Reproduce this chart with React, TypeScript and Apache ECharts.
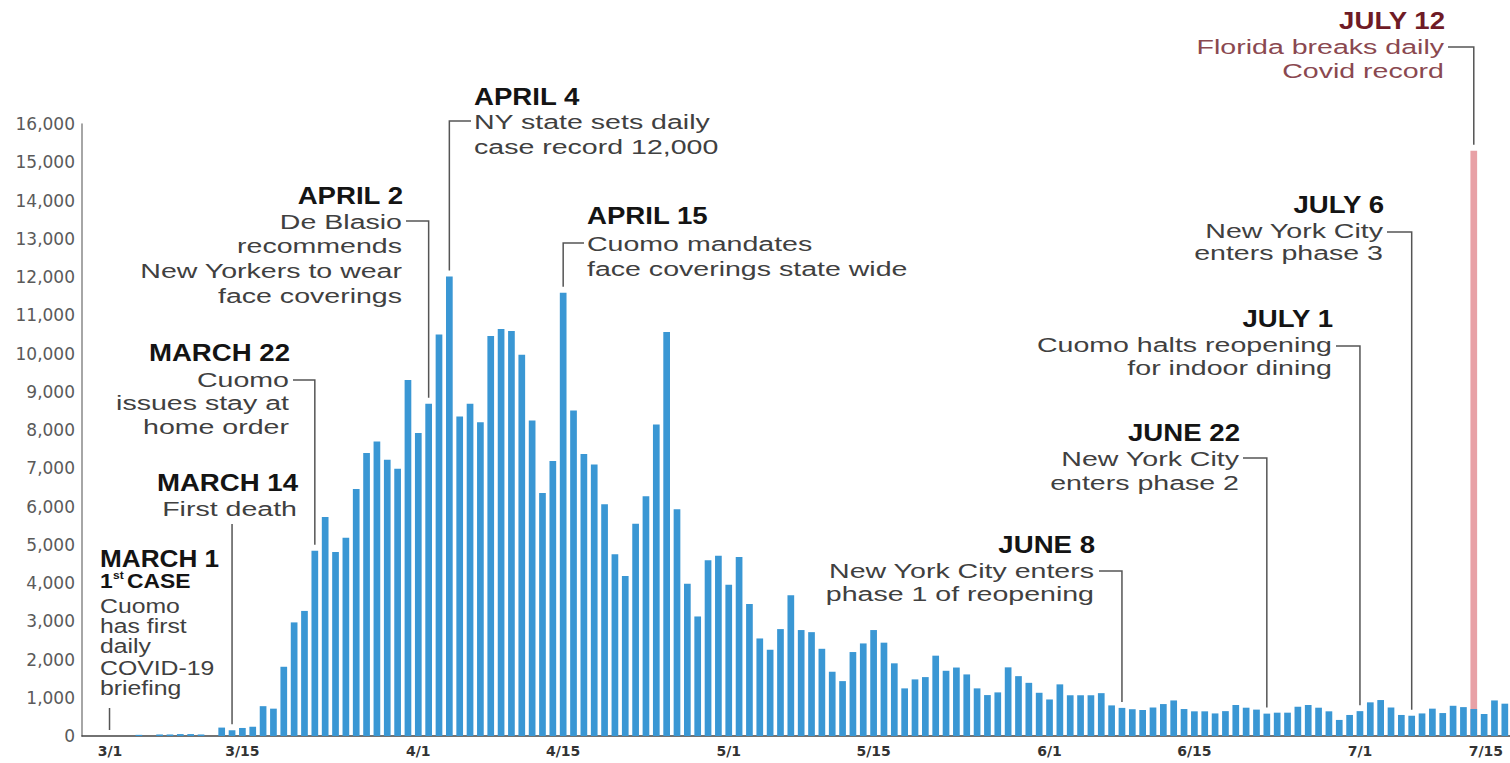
import React, { useEffect, useRef } from "react";
import * as echarts from "echarts";

// ---------- DATA ----------
const MONTHS: [number, number, number][] = [
  // [month, firstDay, lastDay]
  [2, 29, 29],
  [3, 1, 31],
  [4, 1, 30],
  [5, 1, 31],
  [6, 1, 30],
  [7, 1, 15],
];
const DATES: string[] = [];
MONTHS.forEach(([m, a, b]) => {
  for (let d = a; d <= b; d++) DATES.push(`${m}/${d}`);
});

const FEB_CASES = [0];
const MAR_CASES = [0, 0, 0, 0, 30, 0, 40, 40, 50, 50, 40, 0, 220, 150, 210, 240, 780, 715, 1810, 2970, 3270, 4840, 5725, 4810, 5185, 6460, 7400, 7700, 7225, 6990, 9310];
const APR_CASES = [7920, 8685, 10500, 12010, 8355, 8685, 8200, 10460, 10640, 10590, 9970, 8250, 6350, 7190, 11590, 8510, 7370, 7100, 6060, 4750, 4185, 5550, 6265, 8145, 10565, 5925, 3980, 3125, 4595, 4715];
const MAY_CASES = [3955, 4680, 3450, 2550, 2255, 2795, 3680, 2770, 2715, 2280, 1680, 1435, 2195, 2420, 2770, 2440, 1900, 1245, 1480, 1540, 2100, 1705, 1790, 1610, 1245, 1070, 1140, 1795, 1565, 1390, 1130];
const JUN_CASES = [955, 1350, 1065, 1065, 1065, 1120, 800, 735, 700, 680, 745, 835, 930, 705, 645, 645, 590, 650, 810, 740, 690, 585, 610, 610, 765, 810, 740, 645, 420, 550];
const JUL_CASES = [650, 880, 940, 745, 550, 530, 590, 715, 600, 790, 755, 705, 575, 930, 845];
const NY_CASES = [...FEB_CASES, ...MAR_CASES, ...APR_CASES, ...MAY_CASES, ...JUN_CASES, ...JUL_CASES];

const FLORIDA_DATE = "7/12";
const FLORIDA_CASES = 15300;

const TICK_LABELS = ["3/1", "3/15", "4/1", "4/15", "5/1", "5/15", "6/1", "6/15", "7/1", "7/15"];

// ---------- ANNOTATIONS (layout) ----------
type Ann = {
  date: string;
  florida?: boolean;
  side: "left" | "right";
  x: number;
  head: string;
  headY: number;
  body: string[];
  bodyY: number[];
  hookY?: number;
  hookX?: number;
  lineTop?: number;
  lineDx?: number;
  headScale?: number;
  bodyScale?: number;
  headColor?: string;
  bodyColor?: string;
};

const ANNOTATIONS: Ann[] = [
  { date: "3/1", side: "left", x: 100, head: "MARCH 1", headY: 558, body: ["Cuomo", "has first", "daily", "COVID-19", "briefing"], bodyY: [606, 626, 646, 668, 688], lineTop: 708, lineDx: 12, headScale: 1.09, bodyScale: 1.18 },
  { date: "3/14", side: "right", x: 298, head: "MARCH 14", headY: 483, body: ["First death"], bodyY: [508], lineTop: 524 },
  { date: "3/22", side: "right", x: 290, head: "MARCH 22", headY: 353, body: ["Cuomo", "issues stay at", "home order"], bodyY: [379, 402, 426], hookY: 380, hookX: 293 },
  { date: "4/2", side: "right", x: 403, head: "APRIL 2", headY: 196, body: ["De Blasio", "recommends", "New Yorkers to wear", "face coverings"], bodyY: [221, 245, 270, 295], hookY: 221, hookX: 406 },
  { date: "4/4", side: "left", x: 474, head: "APRIL 4", headY: 97, body: ["NY state sets daily", "case record 12,000"], bodyY: [121, 146], hookY: 121, hookX: 471 },
  { date: "4/15", side: "left", x: 587, head: "APRIL 15", headY: 216, body: ["Cuomo mandates", "face coverings state wide"], bodyY: [243, 268], hookY: 243, hookX: 584 },
  { date: "6/8", side: "right", x: 1095, head: "JUNE 8", headY: 545, body: ["New York City enters", "phase 1 of reopening"], bodyY: [570, 593], hookY: 571, hookX: 1099 },
  { date: "6/22", side: "right", x: 1240, head: "JUNE 22", headY: 433, body: ["New York City", "enters phase 2"], bodyY: [458, 482], hookY: 458, hookX: 1243 },
  { date: "7/1", side: "right", x: 1333, head: "JULY 1", headY: 319, body: ["Cuomo halts reopening", "for indoor dining"], bodyY: [344, 367], hookY: 346, hookX: 1336 },
  { date: "7/6", side: "right", x: 1384, head: "JULY 6", headY: 205, body: ["New York City", "enters phase 3"], bodyY: [230, 252], hookY: 232, hookX: 1387 },
  { date: "7/12", florida: true, side: "right", x: 1445, head: "JULY 12", headY: 21, body: ["Florida breaks daily", "Covid record"], bodyY: [46, 70], hookY: 47, hookX: 1448, headColor: "#6f1b26", bodyColor: "#8a4850" },
];

const BLUE = "#3a97d4";
const PINK = "#e8a1a6";
const LINE = "#555555";
const FONT = "'Liberation Sans', Arial, sans-serif";

export default function App() {
  const ref = useRef<HTMLDivElement>(null);

  useEffect(() => {
    if (!ref.current) return;
    const chart = echarts.init(ref.current, undefined, { renderer: "svg" });

    const option: any = {
      animation: false,
      backgroundColor: "#ffffff",
      grid: { left: 82, right: 0, top: 124, bottom: 27, containLabel: false },
      xAxis: {
        type: "category",
        data: DATES,
        boundaryGap: true,
        axisLine: { lineStyle: { color: "#444", width: 1.5 } },
        axisTick: { show: false },
        axisLabel: {
          interval: (i: number) => TICK_LABELS.includes(DATES[i]),
          hideOverlap: false,
          margin: 8,
          formatter: (v: string) =>
            v === "3/1" ? `{first|${v}}` : v === "7/15" ? `{last|${v}}` : `{n|${v}}`,
          rich: {
            n: { fontFamily: "'DejaVu Sans', sans-serif", fontSize: 14, fontWeight: "bold", color: "#333" },
            first: { fontFamily: "'DejaVu Sans', sans-serif", fontSize: 14, fontWeight: "bold", color: "#333", padding: [0, 0, 0, 25] },
            last: { fontFamily: "'DejaVu Sans', sans-serif", fontSize: 14, fontWeight: "bold", color: "#333", padding: [0, 38, 0, 0] },
          },
        },
      },
      yAxis: {
        type: "value",
        min: 0,
        max: 16000,
        interval: 1000,
        axisLine: { show: true, lineStyle: { color: "#888", width: 1.5 } },
        axisTick: { show: false },
        splitLine: { show: false },
        axisLabel: {
          margin: 7,
          color: "#5a5a5a",
          fontSize: 17,
          fontFamily: "'DejaVu Sans', sans-serif",
          formatter: (v: number) => v.toLocaleString("en-US"),
        },
      },
      series: [
        {
          name: "Florida",
          type: "bar",
          data: DATES.map((d) => (d === FLORIDA_DATE ? FLORIDA_CASES : null)),
          barWidth: 6.7,
          barGap: "-100%",
          itemStyle: { color: PINK },
        },
        {
          name: "New York",
          type: "bar",
          data: NY_CASES,
          barWidth: 6.7,
          barGap: "-100%",
          itemStyle: { color: BLUE },
        },
      ],
    };
    chart.setOption(option);

    const graphics: any[] = [];
    const txt = (
      text: string,
      x: number,
      y: number,
      align: string,
      size: number,
      weight: string,
      color: string,
      scale: number
    ) => ({
      type: "text",
      x,
      y,
      scaleX: scale,
      silent: true,
      style: {
        text,
        x: 0,
        y: 0,
        align,
        verticalAlign: "middle",
        fontFamily: FONT,
        fontSize: size,
        fontWeight: weight,
        fill: color,
      },
    });

    ANNOTATIONS.forEach((a) => {
      const idx = DATES.indexOf(a.date);
      const val = a.florida ? FLORIDA_CASES : NY_CASES[idx];
      const p = chart.convertToPixel({ gridIndex: 0 }, [idx, val]) as number[];
      const bx = p[0] + (a.lineDx || 0);
      const by = p[1] - 6;
      const headColor = a.headColor || "#141414";
      const bodyColor = a.bodyColor || "#404040";
      const hs = a.headScale || 1.15;
      const bs = a.bodyScale || 1.36;

      graphics.push(txt(a.head, a.x, a.headY, a.side, 24, "bold", headColor, hs));
      a.body.forEach((line, i) => {
        graphics.push(txt(line, a.side === "right" ? a.x - 1 : a.x, a.bodyY[i], a.side, 21, "normal", bodyColor, bs));
      });

      if (a.hookY !== undefined && a.hookX !== undefined) {
        graphics.push({
          type: "polyline",
          silent: true,
          shape: { points: [[a.hookX, a.hookY], [bx, a.hookY], [bx, by]] },
          style: { stroke: LINE, lineWidth: 1.5, fill: "none" },
        });
      } else if (a.lineTop !== undefined) {
        graphics.push({
          type: "line",
          silent: true,
          shape: { x1: bx, y1: a.lineTop, x2: bx, y2: by },
          style: { stroke: LINE, lineWidth: 1.5 },
        });
      }
    });

    // "1st CASE" sub-heading under MARCH 1
    graphics.push(txt("1", 100, 581, "left", 21, "bold", "#141414", 1.09));
    graphics.push(txt("st", 113, 575, "left", 11, "bold", "#141414", 1.09));
    graphics.push(txt("CASE", 127, 581, "left", 21, "bold", "#141414", 1.09));

    chart.setOption({ graphic: { elements: graphics } });

    return () => chart.dispose();
  }, []);

  return (
    <div
      ref={ref}
      style={{ position: "fixed", left: 0, top: 0, width: "1510px", height: "763px", background: "#fff" }}
    />
  );
}
